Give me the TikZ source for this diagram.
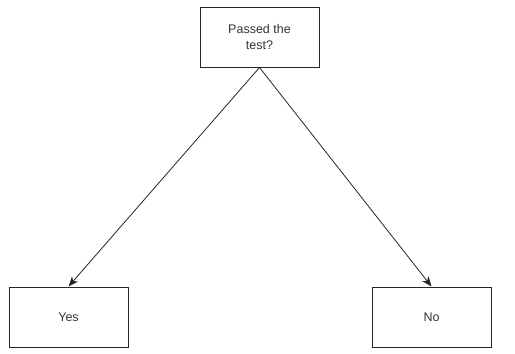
\documentclass[tikz,border=0pt]{standalone}
\usepackage{fontspec}
\setmainfont{Liberation Sans}
\usetikzlibrary{arrows.meta}
\begin{document}
\begin{tikzpicture}[x=1pt,y=-1pt,
  box/.style={draw=black!85, line width=1pt, minimum width=119pt, minimum height=60pt,
    inner sep=0pt, align=center, text=black!80, font=\fontsize{12.5}{15.5}\selectfont},
  link/.style={draw=black!85, line width=0.8pt, -{Stealth[length=10pt,width=8pt,inset=3pt]}}]
  \useasboundingbox (0,0) rectangle (515,354);
  \node[box] (q)   at (259.5,37)  {Passed the\\test?};
  \node[box] (yes) at (68.5,317)  {Yes};
  \node[box] (no)  at (431.5,317) {No};
  \draw[link] (q.south) -- (yes.north);
  \draw[link] (q.south) -- (no.north);
\end{tikzpicture}
\end{document}
